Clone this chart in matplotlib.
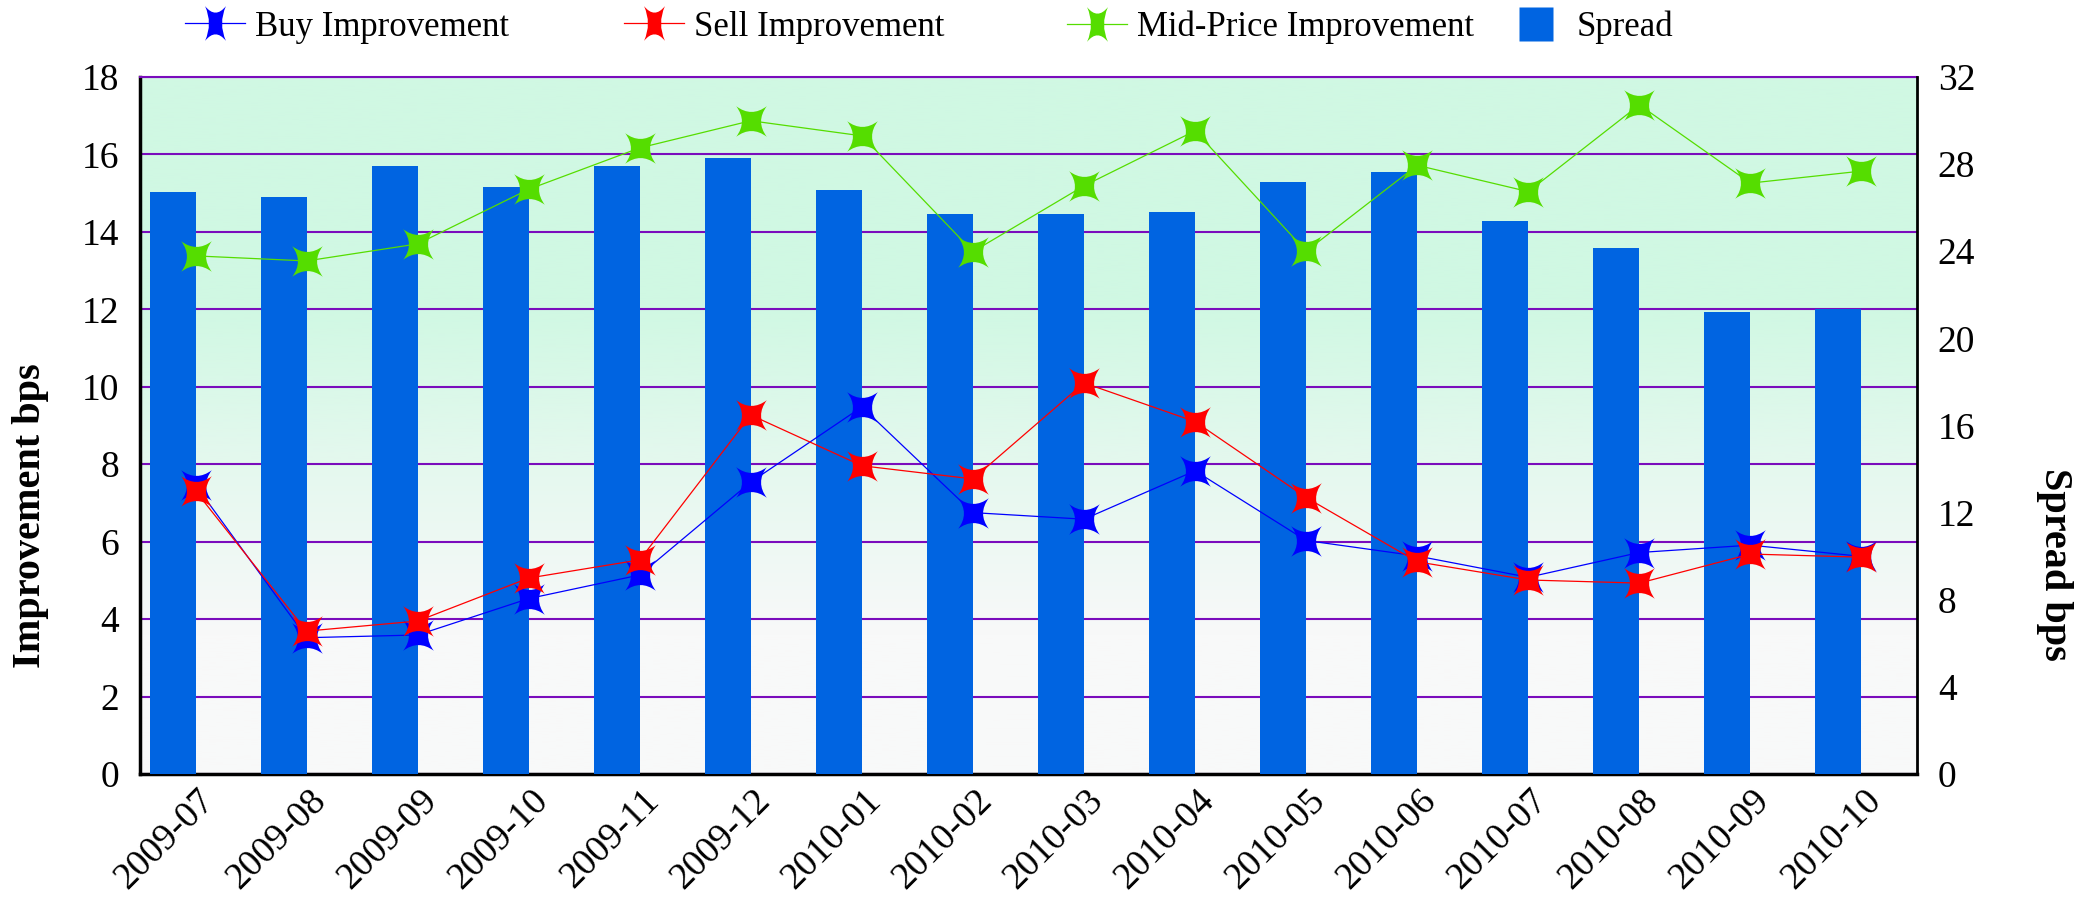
import numpy as np
import matplotlib
matplotlib.use('Agg')
import matplotlib.pyplot as plt
from matplotlib.path import Path
from matplotlib.lines import Line2D
from matplotlib.transforms import ScaledTranslation

months = ['2009-07', '2009-08', '2009-09', '2009-10', '2009-11', '2009-12',
          '2010-01', '2010-02', '2010-03', '2010-04', '2010-05', '2010-06',
          '2010-07', '2010-08', '2010-09', '2010-10']
buy = [7.46, 3.52, 3.59, 4.53, 5.14, 7.54, 9.48, 6.75, 6.58, 7.83, 6.03, 5.63, 5.08, 5.72, 5.91, 5.62]
sell = [7.31, 3.69, 3.95, 5.06, 5.53, 9.27, 7.96, 7.62, 10.10, 9.10, 7.14, 5.48, 5.01, 4.93, 5.68, 5.60]
mid = [13.38, 13.25, 13.69, 15.10, 16.17, 16.87, 16.48, 13.49, 15.19, 16.61, 13.50, 15.72, 15.04, 17.28, 15.26, 15.57]
spread = [26.7, 26.5, 27.9, 26.95, 27.9, 28.3, 26.8, 25.7, 25.7, 25.8, 27.2, 27.65, 25.4, 24.15, 21.2, 21.35]

left_ticks = list(range(0, 19, 2))
right_ticks = list(range(0, 33, 4))

plt.rcParams['font.family'] = ['Liberation Serif', 'DejaVu Serif']


def star_path(sx=1.0, c=0.2):
    verts = [(sx, 1), (0, c), (-sx, 1), (-c * sx, 0), (-sx, -1), (0, -c), (sx, -1), (c * sx, 0), (sx, 1), (sx, 1)]
    codes = [Path.MOVETO, Path.CURVE3, Path.CURVE3, Path.CURVE3, Path.CURVE3,
             Path.CURVE3, Path.CURVE3, Path.CURVE3, Path.CURVE3, Path.CLOSEPOLY]
    return Path(verts, codes)


star = star_path(1.0, 0.25)
star_leg = star_path(0.6, 0.25)

BLUE = '#0000FF'
RED = '#FF0000'
GREEN = '#55DD00'
BAR = '#0064E1'
GRID = '#7A0CBC'

W, H = 2095, 905
fig = plt.figure(figsize=(W / 100, H / 100), dpi=100)
fig.subplots_adjust(left=140 / W, right=1917 / W, bottom=1 - 774 / H, top=1 - 77 / H)
ax = fig.add_subplot(111)

x = np.arange(len(months))

# background gradient
stops_pos = [0.0, 0.33, 0.55, 0.80, 1.0]
stops_col = [(208, 248, 227), (208, 248, 227), (228, 248, 238), (248, 249, 249), (249, 249, 249)]
n = 400
t = np.linspace(0, 1, n)
grad = np.zeros((n, 1, 3))
for k in range(3):
    grad[:, 0, k] = np.interp(t, stops_pos, [cc[k] / 255 for cc in stops_col])
ax.imshow(grad, extent=[0, 1, 0, 1], transform=ax.transAxes, aspect='auto', zorder=0)

ax.set_xlim(-0.5, len(months) - 0.5)
ax.set_ylim(0, 18)
ax.set_yticks(left_ticks)
ax.yaxis.grid(True, color=GRID, linewidth=1.5, zorder=1)
ax.set_axisbelow(True)
ax.tick_params(axis='y', length=0, pad=15, labelsize=27)
ax.tick_params(axis='x', length=0, pad=14, labelsize=27)
ax.set_xticks(x)
ax.set_xticklabels(months, rotation=45, ha='right', va='center', rotation_mode='anchor')
offset = ScaledTranslation(0.14, -0.02, fig.dpi_scale_trans)
for lbl in ax.get_xticklabels():
    lbl.set_transform(lbl.get_transform() + offset)
for s in ['left', 'bottom']:
    ax.spines[s].set_color('black')
    ax.spines[s].set_linewidth(2.5)
ax.spines['top'].set_color(GRID)
ax.spines['top'].set_linewidth(1.5)
ax.spines['right'].set_visible(False)
ax.set_ylabel('Improvement bps', fontsize=29, fontweight='bold')
ax.yaxis.set_label_coords(-0.051, 0.37)

# bars on right axis
ax2 = ax.twinx()
ax2.bar(x, spread, width=-0.414, align='edge', color=BAR, zorder=2)
ax2.set_ylim(0, 32)
ax2.set_yticks(right_ticks)
ax2.tick_params(axis='y', length=0, pad=15, labelsize=27)
ax2.spines['right'].set_color('black')
ax2.spines['right'].set_linewidth(2)
for s in ['left', 'top', 'bottom']:
    ax2.spines[s].set_visible(False)
ax2.set_ylabel('Spread bps', fontsize=29, fontweight='bold', rotation=270)
ax2.yaxis.set_label_coords(1.088, 0.30)

# lines on top
ax3 = ax.twinx()
ax3.set_ylim(0, 18)
ax3.yaxis.set_visible(False)
for s in ax3.spines.values():
    s.set_visible(False)
ax3.patch.set_visible(False)
ms = 22
ax3.plot(x, buy, color=BLUE, lw=0.9, marker=star, ms=ms, mec='none')
ax3.plot(x, sell, color=RED, lw=0.9, marker=star, ms=ms, mec='none')
ax3.plot(x, mid, color=GREEN, lw=0.9, marker=star, ms=ms, mec='none')

# legend (separate entries placed individually)
entries = [
    (Line2D([], [], color=BLUE, lw=0.9, marker=star_leg, ms=25, mec='none'), 'Buy Improvement', 185),
    (Line2D([], [], color=RED, lw=0.9, marker=star_leg, ms=25, mec='none'), 'Sell Improvement', 624),
    (Line2D([], [], color=GREEN, lw=0.9, marker=star_leg, ms=25, mec='none'), 'Mid-Price Improvement', 1067),
    (Line2D([], [], color=BAR, lw=0, marker='s', ms=25, mec='none'), 'Spread', 1506),
]
for h, lab, px in entries:
    fig.legend([h], [lab], loc='center left', bbox_to_anchor=(px / W, 1 - 27 / H),
               frameon=False, fontsize=25, handlelength=1.73, handletextpad=0.3,
               borderpad=0, borderaxespad=0)

fig.savefig('out.png', dpi=100)
